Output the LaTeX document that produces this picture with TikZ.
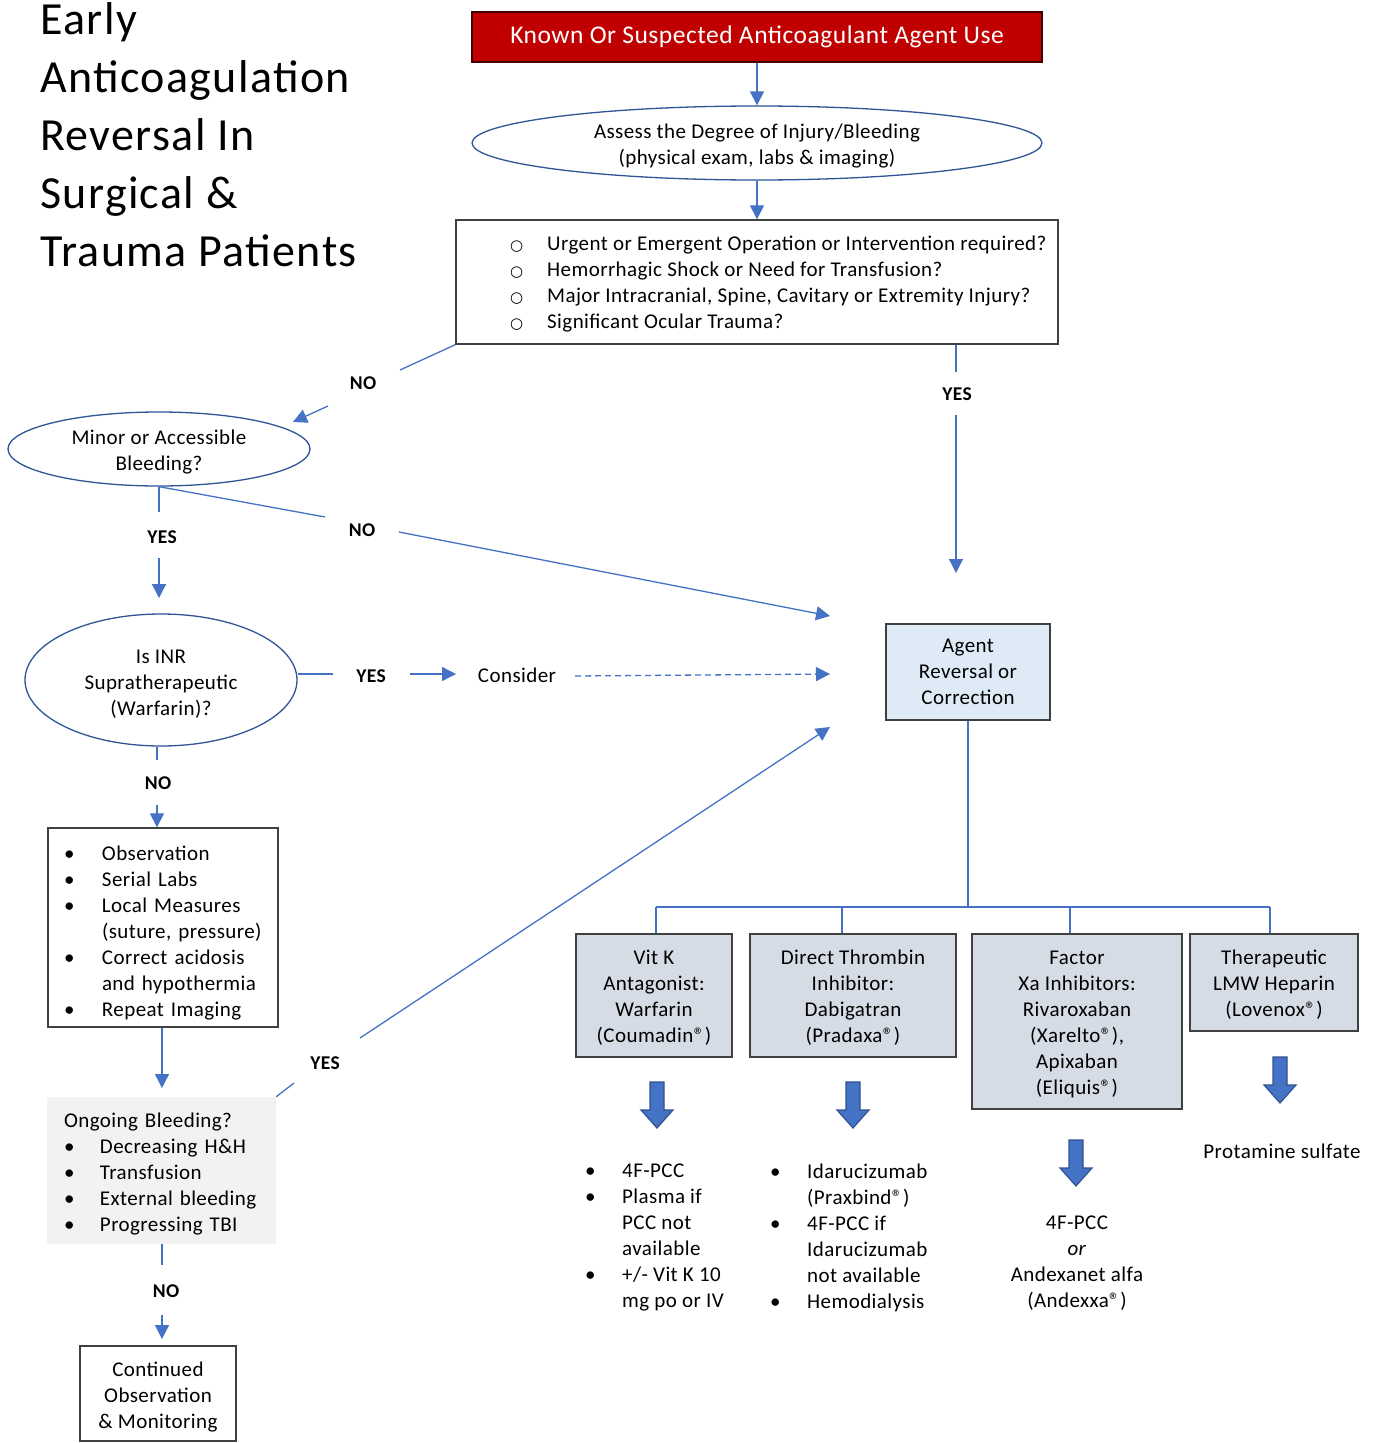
\documentclass[tikz,border=0pt]{standalone}
\usepackage{fontspec}
\setmainfont{Carlito}[LetterSpace=2]
\newfontfamily\titlefont{Carlito}[LetterSpace=3]
\newfontfamily\symfont{DejaVu Sans}
\usetikzlibrary{shapes.geometric,arrows.meta}
\definecolor{redfill}{HTML}{C00000}
\definecolor{rededge}{HTML}{400000}
\definecolor{lineblue}{HTML}{4472C4}
\definecolor{ellblue}{HTML}{2F5597}
\definecolor{boxgray}{HTML}{404040}
\definecolor{agentfill}{HTML}{DEEBF7}
\definecolor{drugfill}{HTML}{D6DCE5}
\definecolor{grayfill}{HTML}{F2F2F2}
\definecolor{arrowedge}{HTML}{2F528F}
\newcommand\bul[1][37pt]{\makebox[#1][l]{\textbullet}}
\newcommand\ind[1][37pt]{\hspace*{#1}}
\newcommand\cbul{\makebox[37pt][l]{\hspace{0pt}{\symfont\fontsize{15}{26}\selectfont ○}}}
\newcommand\regmark{\textregistered}
\newcommand\topstrut[1]{\rule{0pt}{#1}}
\newcommand\blockdown[2]{\draw[barrow] ({#1-7},#2) -- ({#1+7},#2) -- ({#1+7},{#2+28}) -- ({#1+16},{#2+28}) -- (#1,{#2+46}) -- ({#1-16},{#2+28}) -- ({#1-7},{#2+28}) -- cycle;}
\begin{document}
\begin{tikzpicture}[x=1pt,y=-1pt,
 conn/.style={draw=lineblue,line width=1.3pt},
 arr/.style={conn,-{Triangle[length=14pt,width=14pt]}},
 lbl/.style={font=\fontsize{19.5}{23}\selectfont\bfseries,inner sep=0pt},
 txt/.style={font=\fontsize{21}{26}\selectfont,inner sep=0pt},
 box/.style={txt,draw=boxgray,line width=1.4pt,fill=white},
 ell/.style={txt,ellipse,draw=ellblue,line width=1.3pt,fill=white},
 drug/.style={box,fill=drugfill,align=center},
 barrow/.style={fill=lineblue,draw=arrowedge,line width=1.2pt}]
\useasboundingbox (0,0) rectangle (1376,1443);
\fill[white] (0,0) rectangle (1376,1443);

% title
\node[anchor=north west,inner sep=0pt,align=left,font=\titlefont\fontsize{46}{58}\selectfont] (ttl) at (40,2)
 {Early\\Anticoagulation\\Reversal In\\Surgical \&\\Trauma Patients};

% main column
\node[txt,font=\fontsize{25.5}{30}\selectfont,fill=redfill,draw=rededge,line width=1.4pt,minimum width=570pt,minimum height=50pt,text=white] (known) at (757,37)
 {Known Or Suspected Anticoagulant Agent Use};
\node[ell,minimum width=570pt,minimum height=74pt,align=center] (assess) at (757,143)
 {\topstrut{21pt}Assess the Degree of Injury/Bleeding\\(physical exam, labs \& imaging)};
\node[box,minimum width=602pt,minimum height=124pt] (q) at (757,282) {};
\node[txt,anchor=west,align=left] (qtext) at (510,284)
 {\cbul Urgent or Emergent Operation or Intervention required?\\
  \cbul Hemorrhagic Shock or Need for Transfusion?\\
  \cbul Major Intracranial, Spine, Cavitary or Extremity Injury?\\
  \cbul Significant Ocular Trauma?};

% left column
\node[ell,minimum width=302pt,minimum height=74pt,align=center] (minor) at (159,449)
 {\topstrut{20pt}Minor or Accessible\\Bleeding?};
\node[ell,minimum width=272pt,minimum height=132pt,align=center] (inr) at (161,680)
 {\topstrut{21pt}Is INR\\Supratherapeutic\\(Warfarin)?};
\node[txt] (consider) at (517,675) {Consider};
\node[box,text width=198pt,inner xsep=16pt,inner ysep=0pt,minimum height=199pt,align=left] (obs) at (163,927.5)
 {\topstrut{25pt}\bul[38pt]Observation\\
  \bul[38pt]Serial Labs\\
  \bul[38pt]Local Measures\\
  \ind[38pt](suture, pressure)\\
  \bul[38pt]Correct acidosis\\
  \ind[38pt]and hypothermia\\
  \bul[38pt]Repeat Imaging};
\node[txt,fill=grayfill,text width=195pt,inner xsep=17pt,inner ysep=0pt,minimum height=147pt,align=left] (ongoing) at (161.5,1170.5)
 {\topstrut{21pt}Ongoing Bleeding?\\
  \bul[36pt]Decreasing H\&H\\
  \bul[36pt]Transfusion\\
  \bul[36pt]External bleeding\\
  \bul[36pt]Progressing TBI};
\node[box,minimum width=156pt,minimum height=95pt,align=center] (cont) at (158,1393.5)
 {\topstrut{21pt}Continued\\Observation\\\& Monitoring};

% right side
\node[box,fill=agentfill,minimum width=164pt,minimum height=96pt,align=center] (agent) at (968,672)
 {Agent\\Reversal or\\Correction};
\node[drug,minimum width=156pt,minimum height=123pt] (vitk) at (654,995.5)
 {\topstrut{19pt}Vit K\\Antagonist:\\Warfarin\\(Coumadin\regmark)};
\node[drug,minimum width=206pt,minimum height=123pt] (dti) at (853,995.5)
 {\topstrut{19pt}Direct Thrombin\\Inhibitor:\\Dabigatran\\(Pradaxa\regmark)};
\node[drug,minimum width=210pt,minimum height=175pt] (xa) at (1077,1021.5)
 {\topstrut{19pt}Factor\\Xa Inhibitors:\\Rivaroxaban\\(Xarelto\regmark),\\Apixaban\\(Eliquis\regmark)};
\node[drug,minimum width=168pt,minimum height=97pt] (lmw) at (1274,982.5)
 {\topstrut{19pt}Therapeutic\\LMW Heparin\\(Lovenox\regmark)};

% block arrows
\blockdown{657}{1082}
\blockdown{853}{1082}
\blockdown{1076}{1140}
\blockdown{1280}{1057}

% treatments
\node[txt,anchor=west,align=left] (vklist) at (585,1237.5)
 {\bul 4F-PCC\\
  \bul Plasma if\\
  \ind PCC not\\
  \ind available\\
  \bul +/- Vit K 10\\
  \ind mg po or IV};
\node[txt,anchor=west,align=left] (dtilist) at (770,1237.5)
 {\bul Idarucizumab\\
  \ind (Praxbind\regmark)\\
  \bul 4F-PCC if\\
  \ind Idarucizumab\\
  \ind not available\\
  \bul Hemodialysis};
\node[txt,align=center] (xalist) at (1077,1263)
 {4F-PCC\\\textit{or}\\Andexanet alfa\\(Andexxa\regmark)};
\node[txt] (prot) at (1282,1151) {Protamine sulfate};

% labels
\node[lbl] (no1) at (363,383) {NO};
\node[lbl] (yes1) at (957,394) {YES};
\node[lbl] (yes2) at (162,537) {YES};
\node[lbl] (no2) at (362,530) {NO};
\node[lbl] (yes3) at (371,676) {YES};
\node[lbl] (no3) at (158,783) {NO};
\node[lbl] (yes4) at (325,1063) {YES};
\node[lbl] (no4) at (166,1291) {NO};

% coordinates for connector breaks
\coordinate (n1a) at (400,370); \coordinate (n1b) at (328,406); \coordinate (n1c) at (293,422);
\coordinate (y1a) at (956,372); \coordinate (y1b) at (956,415); \coordinate (y1c) at (956,573);
\coordinate (y2a) at (159,512); \coordinate (y2b) at (159,558); \coordinate (y2c) at (159,598);
\coordinate (n2a) at (325,517); \coordinate (n2b) at (399,532); \coordinate (n2c) at (830,616);
\coordinate (y3a) at (333,674); \coordinate (y3b) at (410,674); \coordinate (y3c) at (456,674);
\coordinate (dc0) at (575,676); \coordinate (dc) at (830,674);
\coordinate (n3a) at (157,760); \coordinate (n3b) at (157,805);
\coordinate (oa) at (162,1088);
\coordinate (y4a) at (294,1083); \coordinate (y4b) at (360,1038); \coordinate (y4c) at (830,727);
\coordinate (n4a) at (162,1265); \coordinate (n4b) at (162,1315); \coordinate (n4c) at (162,1339);
\coordinate (t1) at (656,907); \coordinate (t2) at (842,907); \coordinate (t3) at (1070,907); \coordinate (t4) at (1270,907);

% connectors
\draw[arr] (known) -- (assess);
\draw[arr] (assess) -- (q);
\draw[conn] (q.south west) -- (n1a);
\draw[arr] (n1b) -- (n1c);
\draw[conn] (q.south -| y1a) -- (y1a);
\draw[arr] (y1b) -- (y1c);
\draw[conn] (minor.south) -- (y2a);
\draw[arr] (y2b) -- (y2c);
\draw[conn] (minor.south) -- (n2a);
\draw[arr] (n2b) -- (n2c);
\draw[conn] (inr.east |- y3a) -- (y3a);
\draw[arr] (y3b) -- (y3c);
\draw[arr,dashed,dash pattern=on 6pt off 4pt] (dc0) -- (dc);
\draw[conn] (inr.south -| n3a) -- (n3a);
\draw[arr] (n3b) -- (obs.north -| n3b);
\draw[arr] (obs.south -| oa) -- (oa);
\draw[conn] (ongoing.north east) -- (y4a);
\draw[arr] (y4b) -- (y4c);
\draw[conn] (ongoing.south -| n4a) -- (n4a);
\draw[arr] (n4b) -- (n4c);
\draw[conn] (agent.south) -- (agent.south |- t1);
\draw[conn] (t1) -- (t4);
\draw[conn] (t1) -- (t1 |- vitk.north);
\draw[conn] (t2) -- (t2 |- dti.north);
\draw[conn] (t3) -- (t3 |- xa.north);
\draw[conn] (t4) -- (t4 |- lmw.north);
\end{tikzpicture}
\end{document}
